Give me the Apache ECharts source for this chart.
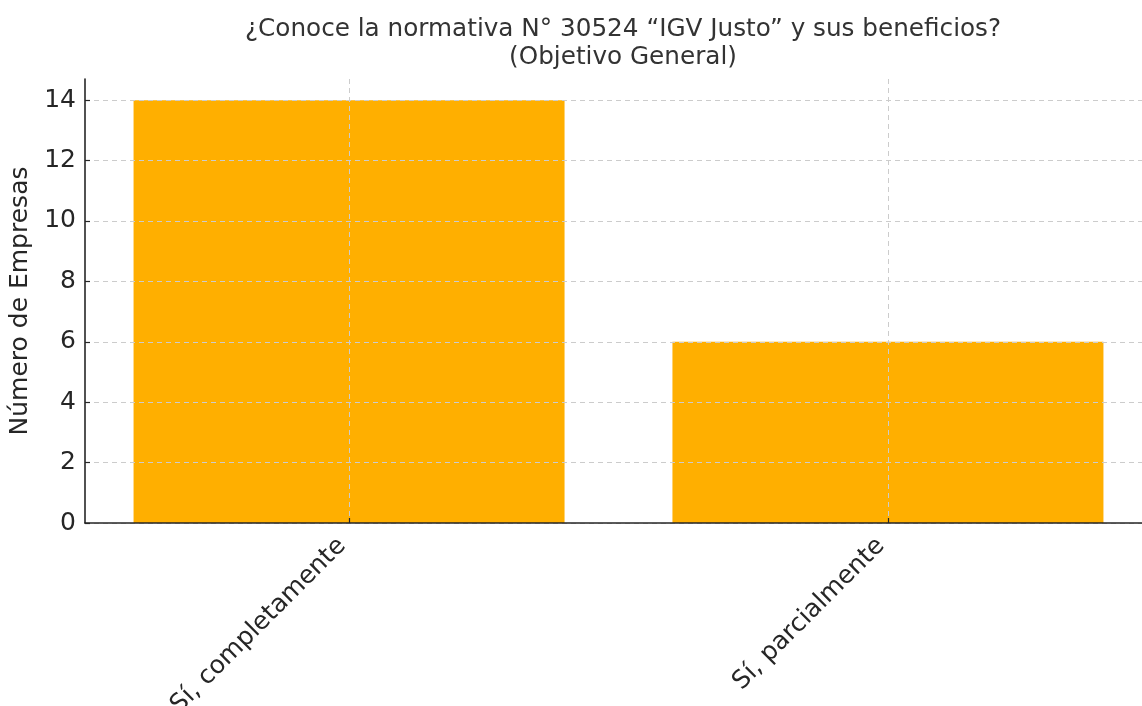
<!DOCTYPE html>
<html>
<head>
<meta charset="utf-8">
<title>IGV Justo</title>
<script src="https://cdn.jsdelivr.net/npm/echarts@6/dist/echarts.min.js"></script>
<style>
  html, body { margin: 0; padding: 0; background: #fff; }
  #chart { width: 1142px; height: 706px; }
</style>
</head>
<body>
<div id="chart"></div>
<script>
// datos
var categorias = ['Sí, completamente', 'Sí, parcialmente'];
var empresas = [14, 6];
var ticksY = [0, 2, 4, 6, 8, 10, 12, 14];
var posiciones = [0, 1];

var myChart = echarts.init(document.getElementById('chart'));

var fuente = 'DejaVu Sans';
var gridColor = '#cccccc';
var axisColor = '#262626';

var option = {
  animation: false,
  textStyle: { fontFamily: fuente },
  title: {
    text: '¿Conoce la normativa N° 30524 “IGV Justo” y sus beneficios?\n(Objetivo General)',
    left: 618,
    textAlign: 'center',
    top: 11,
    textStyle: {
      fontFamily: fuente,
      fontSize: 24.7,
      fontWeight: 'normal',
      color: '#333333',
      lineHeight: 28
    }
  },
  grid: {
    left: 85,
    top: 79,
    width: 1067,
    height: 444,
    containLabel: false,
    outerBoundsMode: 'none'
  },
  xAxis: {
    type: 'value',
    min: -0.49,
    max: 1.49,
    z: 5,
    axisLine: { show: true, onZero: false, lineStyle: { color: axisColor, width: 1.6 } },
    axisTick: { show: true, inside: true, length: 5, customValues: posiciones, lineStyle: { color: axisColor, width: 1.2 } },
    axisLabel: {
      customValues: posiciones,
      rotate: 45,
      margin: 12,
      padding: [0, 10, 0, 0],
      fontSize: 25,
      color: axisColor,
      fontFamily: fuente,
      formatter: function (v) { return categorias[Math.round(v)]; }
    },
    splitLine: { show: true, lineStyle: { color: gridColor, type: [5, 4], width: 1 } }
  },
  yAxis: {
    type: 'value',
    min: 0,
    max: 14.7,
    z: 5,
    name: 'Número de Empresas',
    nameLocation: 'middle',
    nameGap: 51,
    nameRotate: 90,
    nameTextStyle: { fontSize: 25, color: axisColor, fontFamily: fuente },
    axisLine: { show: true, onZero: false, lineStyle: { color: axisColor, width: 1.6 } },
    axisTick: { show: true, inside: true, length: 5, customValues: ticksY, lineStyle: { color: axisColor, width: 1.2 } },
    axisLabel: { customValues: ticksY, fontSize: 25, color: axisColor, margin: 9, fontFamily: fuente },
    splitLine: { show: true, lineStyle: { color: gridColor, type: [5, 4], width: 1 } }
  },
  series: [
    {
      type: 'bar',
      barWidth: 431,
      itemStyle: { color: '#ffaf00' },
      data: posiciones.map(function (p, i) { return [p, empresas[i]]; })
    }
  ]
};

myChart.setOption(option);
</script>
</body>
</html>
